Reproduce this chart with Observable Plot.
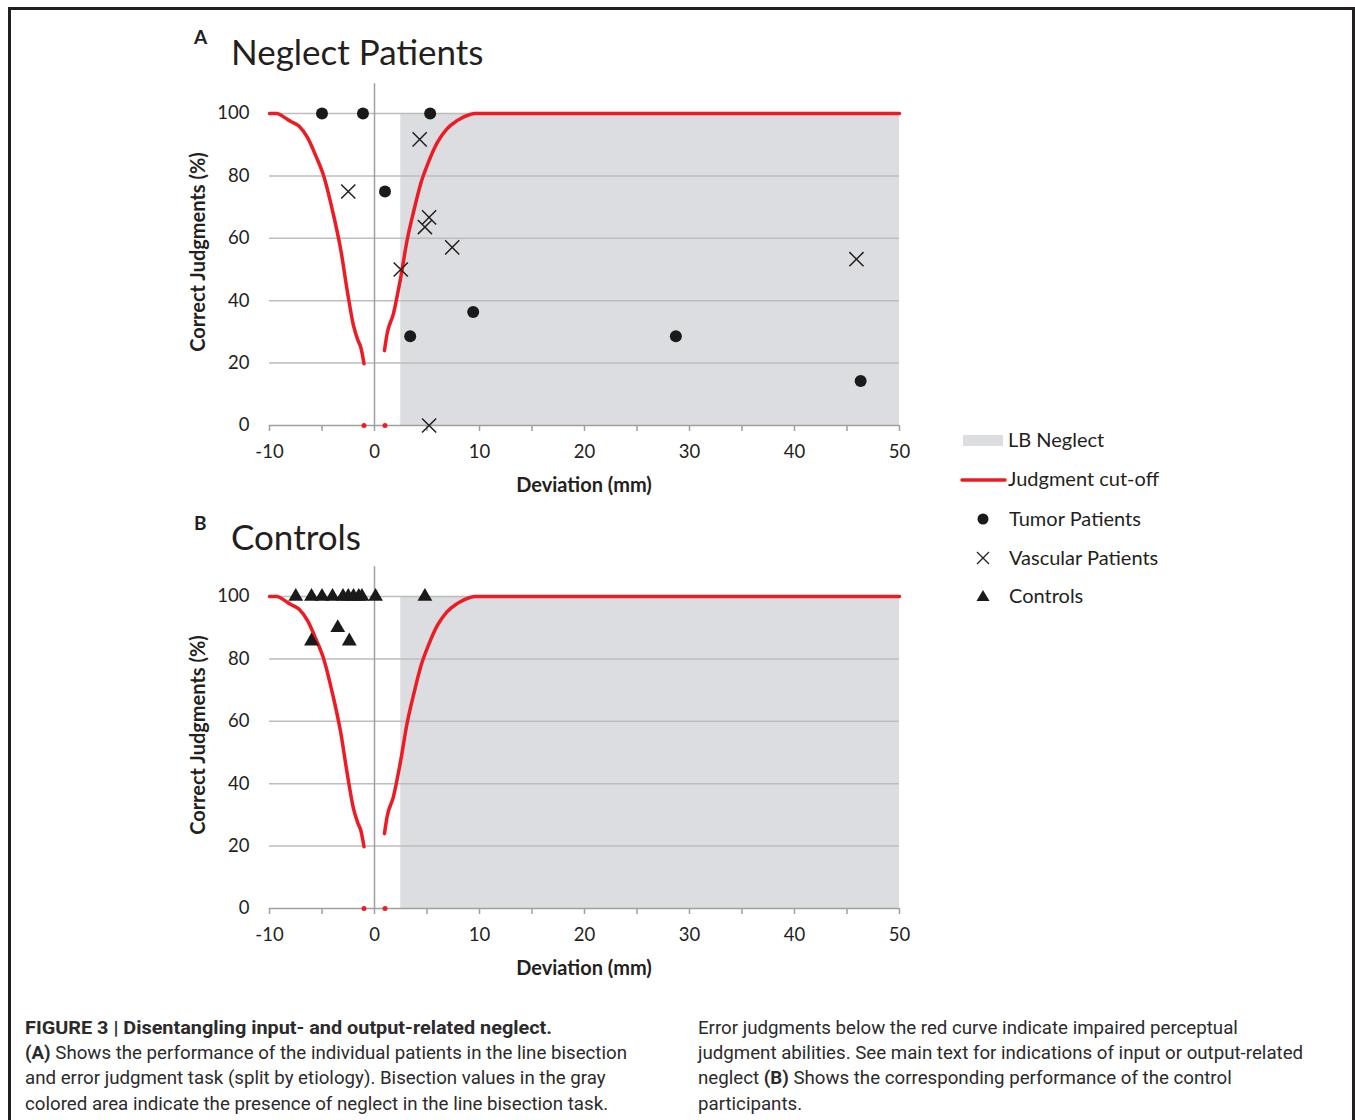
<!DOCTYPE html>
<html>
<head>
<meta charset="utf-8">
<script src="https://cdn.jsdelivr.net/npm/d3@7"></script>
<script src="https://cdn.jsdelivr.net/npm/@observablehq/plot@0.6"></script>
<style>
  html, body { margin: 0; padding: 0; background: #ffffff; }
  #page { position: relative; width: 1355px; height: 1120px; overflow: hidden; background: #fff; }
  .panel { position: absolute; left: 180px; }
  #panelA { top: 75px; }
  #panelB { top: 558px; }
  #overlay { position: absolute; left: 0; top: 0; pointer-events: none; }
  .frame { position: absolute; background: #231f20; }
</style>
</head>
<body>
<div id="page">
  <div class="frame" style="left:8px;top:7px;width:1347px;height:3px;"></div>
  <div class="frame" style="left:8px;top:7px;width:3px;height:1113px;"></div>
  <div class="frame" style="left:1352px;top:7px;width:3px;height:1113px;"></div>
  <div id="panelA" class="panel"></div>
  <div id="panelB" class="panel"></div>
  <svg id="overlay" width="1355" height="1120" xmlns="http://www.w3.org/2000/svg">
    <g font-family="Lato, 'Open Sans', sans-serif" fill="#231f20">
      <text x="194" y="44" font-size="19" font-weight="bold">A</text>
      <text x="231" y="65" font-size="35">Neglect Patients</text>
      <text x="194" y="530" font-size="19" font-weight="bold">B</text>
      <text x="231" y="550" font-size="35">Controls</text>
      <text transform="translate(205,252) rotate(-90)" text-anchor="middle" font-size="20" font-weight="bold">Correct Judgments (%)</text>
      <text transform="translate(205,735) rotate(-90)" text-anchor="middle" font-size="20" font-weight="bold">Correct Judgments (%)</text>
      <text x="584" y="492" text-anchor="middle" font-size="20" font-weight="bold">Deviation (mm)</text>
      <text x="584" y="975" text-anchor="middle" font-size="20" font-weight="bold">Deviation (mm)</text>
      <!-- legend -->
      <rect x="963" y="435" width="40" height="11" fill="#dcdde0"></rect>
      <text x="1008" y="447" font-size="20">LB Neglect</text>
      <line x1="962" y1="480" x2="1005" y2="480" stroke="#ed1c24" stroke-width="3.5" stroke-linecap="round"></line>
      <text x="1008" y="486" font-size="20">Judgment cut-off</text>
      <circle cx="983" cy="519" r="5.5" fill="#1a1a1a"></circle>
      <text x="1009" y="526" font-size="20">Tumor Patients</text>
      <path d="M977,552L989,564M989,552L977,564" stroke="#231f20" stroke-width="1.3" fill="none"></path>
      <text x="1009" y="565" font-size="20">Vascular Patients</text>
      <path d="M983,590L989.5,601L976.5,601Z" fill="#1a1a1a"></path>
      <text x="1009" y="603" font-size="20">Controls</text>
    </g>
    <g font-family="Roboto, 'Liberation Sans', sans-serif" fill="#2b2b2b" font-size="18.7">
      <text x="25" y="1034" font-weight="bold" textLength="527" lengthAdjust="spacingAndGlyphs">FIGURE 3 | Disentangling input- and output-related neglect.</text>
      <text x="25" y="1059"><tspan font-weight="bold">(A)</tspan> Shows the performance of the individual patients in the line bisection</text>
      <text x="25" y="1084">and error judgment task (split by etiology). Bisection values in the gray</text>
      <text x="25" y="1110">colored area indicate the presence of neglect in the line bisection task.</text>
      <text x="698" y="1034">Error judgments below the red curve indicate impaired perceptual</text>
      <text x="698" y="1059">judgment abilities. See main text for indications of input or output-related</text>
      <text x="698" y="1084">neglect <tspan font-weight="bold">(B)</tspan> Shows the corresponding performance of the control</text>
      <text x="698" y="1110">participants.</text>
    </g>
  </svg>
</div>
<script>
// ---------------- data ----------------
const tumorDev      = [-5.0, -1.1, 5.3, 1.0, 3.4, 9.4, 28.7, 46.3];
const tumorCorrect  = [100, 100, 100, 75, 28.6, 36.4, 28.6, 14.3];

const vascularDev     = [-2.5, 4.3, 5.2, 4.8, 7.4, 2.5, 5.2, 45.9];
const vascularCorrect = [75, 91.7, 66.7, 63.6, 57.1, 50, 0, 53.3];

const controlDev     = [-7.5, -6.0, -5.0, -4.0, -3.0, -2.5, -2.0, -1.5, -1.2, 0.1, 4.8, -3.5, -6.0, -2.4];
const controlCorrect = [100, 100, 100, 100, 100, 100, 100, 100, 100, 100, 100, 90, 85.7, 85.7];

// judgment cut-off curve (two branches)
const cutLeftDev  = [-10, -9.3, -8.6, -8.0, -7.2, -6.4, -5.6, -4.8, -4.0, -3.2, -2.6, -2.0, -1.6, -1.3, -1.0];
const cutLeftPct  = [100, 100, 98.8, 97.5, 96.0, 92.4, 86.5, 79.6, 68.9, 56.1, 43.3, 32.0, 27.5, 25.0, 19.8];
const cutRightDev = [0.95, 1.2, 1.8, 2.5, 3.1, 3.75, 4.4, 5.2, 6.0, 6.9, 7.9, 9.1, 9.6, 50];
const cutRightPct = [24, 29.4, 35.8, 47.5, 59.3, 68.9, 77.5, 84.9, 90.8, 95.1, 97.8, 99.7, 100, 100];
const cutZeroDev  = [-1, 1];
const cutZeroPct  = [0, 0];

// LB neglect region
const neglectDev = [2.5, 50];
const neglectPct = [0, 100];

// axes
const xDomain   = [-10, 50];
const yDomain   = [0, 100];
const xMajor    = [-10, 0, 10, 20, 30, 40, 50];
const xMinor    = [-10, -5, 0, 5, 10, 15, 20, 25, 30, 35, 40, 45, 50];
const yTicks    = [0, 20, 40, 60, 80, 100];
const yAxisTop  = 109.5;

// ---------------- build tables ----------------
const zip = (xs, ys, extra = {}) => xs.map((x, i) => ({x, y: ys[i], ...extra}));
const tumor    = zip(tumorDev, tumorCorrect);
const vascular = zip(vascularDev, vascularCorrect);
const controls = zip(controlDev, controlCorrect);
const cutoff   = [...zip(cutLeftDev, cutLeftPct, {branch: "L"}), ...zip(cutRightDev, cutRightPct, {branch: "R"})];
const cutZero  = zip(cutZeroDev, cutZeroPct);
const neglect  = [{x1: neglectDev[0], x2: neglectDev[1], y1: neglectPct[0], y2: neglectPct[1]}];

const RED = "#ed1c24";
const AXIS = "#a0a0a0";
const GRID = "#bdbdbd";

function panel(pointMarks) {
  return Plot.plot({
    width: 740,
    height: 425,
    marginLeft: 89,
    marginRight: 21,
    marginTop: 38,
    marginBottom: 75,
    x: {domain: xDomain},
    y: {domain: yDomain},
    style: {fontFamily: "Lato, 'Open Sans', sans-serif", fontSize: "18.5px", color: "#231f20", background: "transparent", overflow: "visible"},
    marks: [
      Plot.rect(neglect, {x1: "x1", x2: "x2", y1: "y1", y2: "y2", fill: "#dcdde0"}),
      Plot.ruleY(yTicks.filter(d => d > 0), {stroke: GRID, strokeWidth: 1.5}),
      Plot.ruleX([0], {y1: 0, y2: yAxisTop, stroke: AXIS, strokeWidth: 1.5}),
      Plot.ruleY([0], {stroke: AXIS, strokeWidth: 1.5}),
      Plot.axisX({ticks: xMinor, tickSize: 6, tickFormat: () => "", stroke: AXIS, strokeWidth: 1.5, label: null}),
      Plot.axisX({ticks: xMajor, tickSize: 0, tickPadding: 19, tickFormat: d => String(d), label: null}),
      Plot.axisY({ticks: yTicks, tickSize: 0, tickPadding: 20, tickFormat: d => String(d), label: null}),
      Plot.line(cutoff, {x: "x", y: "y", z: "branch", stroke: RED, strokeWidth: 3.5, curve: "monotone-x"}),
      Plot.dot(cutZero, {x: "x", y: "y", r: 2.5, fill: RED}),
      ...pointMarks
    ]
  });
}

const tumorMark    = Plot.dot(tumor, {x: "x", y: "y", r: 6, symbol: "circle", fill: "#1a1a1a"});
const vascularMark = Plot.dot(vascular, {x: "x", y: "y", r: 6.5, symbol: "times", stroke: "#231f20", strokeWidth: 1.5});
const controlMark  = Plot.dot(controls, {x: "x", y: "y", r: 5.5, symbol: "triangle", fill: "#1a1a1a"});

document.getElementById("panelA").appendChild(panel([vascularMark, tumorMark]));
document.getElementById("panelB").appendChild(panel([controlMark]));
</script>
</body>
</html>
